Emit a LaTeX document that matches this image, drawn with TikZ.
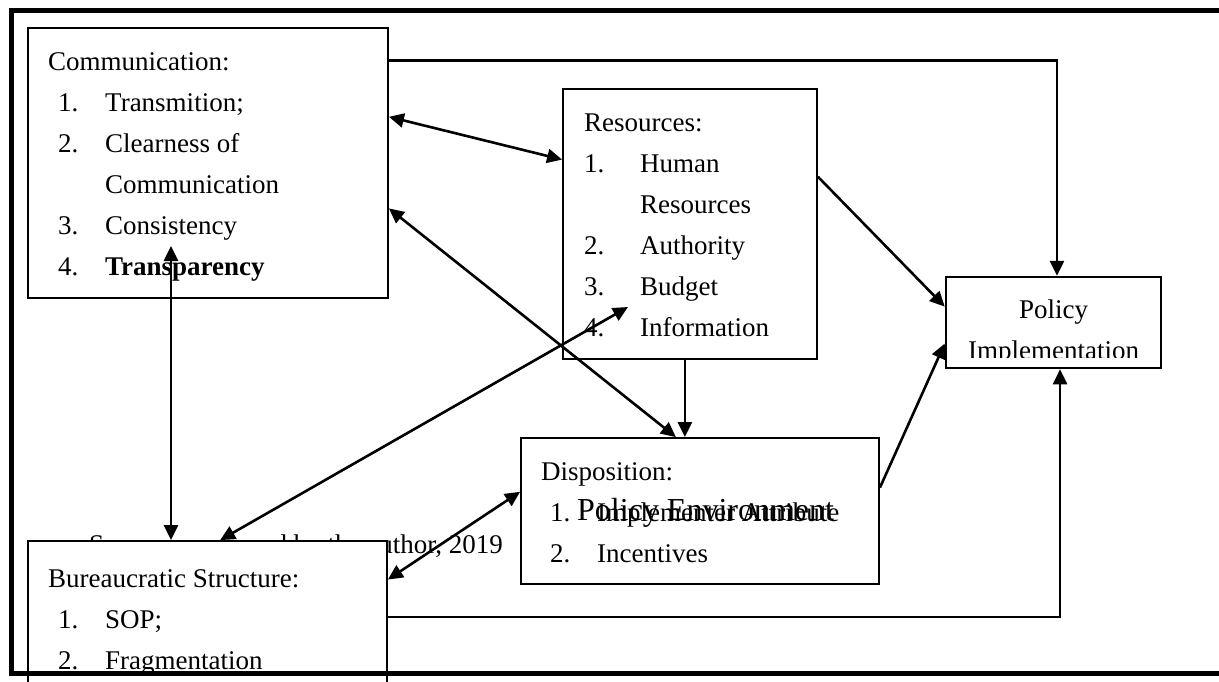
\documentclass[tikz,border=0pt]{standalone}
\usepackage{fontspec}
\setmainfont{Liberation Serif}
\usetikzlibrary{arrows.meta,calc}

\begin{document}
\begin{tikzpicture}[x=1pt, y=-1pt,
    >={Triangle[length=15pt,width=14pt]},
    box/.style={draw, line width=1.8pt, inner sep=0pt},
    txt/.style={inner sep=0pt, font=\fontsize{27}{41}\selectfont},
    conn/.style={line width=2.6pt}]
    \useasboundingbox (0,0) rectangle (1219,681);
    \clip (0,0) rectangle (1219,681);

    % boxes
    \node[box, minimum width=360pt, minimum height=270pt] (comm) at (208,163) {};
    \node[box, minimum width=254pt, minimum height=270pt] (res) at (690,224) {};
    \node[box, line width=2.5pt, minimum width=215pt, minimum height=91pt] (pi) at (1053.5,322.5) {};
    \node[box, minimum width=358pt, minimum height=146pt] (disp) at (700,511) {};

    \node[txt, anchor=north west] (commtxt) at (48,41.3) {\begin{tabular}{@{\hspace{10pt}}p{47pt}@{}l@{}}
      \multicolumn{2}{@{}l@{}}{Communication:}\\
      1. & Transmition;\\
      2. & Clearness of\\
         & Communication\\
      3. & Consistency\\
      4. & \textbf{Transparency}
    \end{tabular}};
    \node[txt, anchor=north west] (restxt) at (584,102.3) {\begin{tabular}{@{}p{56pt}@{}l@{}}
      \multicolumn{2}{@{}l@{}}{Resources:}\\
      1. & Human\\
         & Resources\\
      2. & Authority\\
      3. & Budget\\
      4. & Information
    \end{tabular}};
    \node[txt, anchor=north west] (disptxt) at (541,451.3) {\begin{tabular}{@{\hspace{9pt}}p{47pt}@{}l@{}}
      \multicolumn{2}{@{}l@{}}{Disposition:}\\
      1. & Implementer Attribute\\
      2. & Incentives
    \end{tabular}};
    \node[inner sep=0pt, anchor=base west, font=\fontsize{32}{38}\selectfont] (env) at (577,520) {Policy Environment};
    \begin{scope}
      \clip (946,277) rectangle (1161,357);
      \node[txt, anchor=north] (pitxt) at (1053.5,289.3) {\begin{tabular}{@{}c@{}}
        Policy\\
        Implementation
      \end{tabular}};
    \end{scope}

    % source line, mostly under the structure box
    \node[txt, anchor=base east] (src) at (503,553) {Source: processed by the author, 2019};

    \node[box, fill=white, minimum width=359pt, minimum height=179pt] (bur) at (207.5,630.5) {};
    \node[txt, anchor=north west] (burtxt) at (48,558.3) {\begin{tabular}{@{\hspace{10pt}}p{47pt}@{}l@{}}
      \multicolumn{2}{@{}l@{}}{Bureaucratic Structure:}\\
      1. & SOP;\\
      2. & Fragmentation
    \end{tabular}};

    % frame round the whole figure
    \draw[line width=5pt] (11,10) rectangle (1240,673);

    \coordinate (ctop) at (171,246);
    \coordinate (rbud) at (628,307);

    % connectors
    \draw[conn,->] ($(comm.north east)!0.122!(comm.south east)$) -| ($(pi.north west)!0.516!(pi.north east)$);
    \draw[conn,<->] ($(comm.north east)!0.33!(comm.south east)$) -- ($(res.north west)!0.263!(res.south west)$);
    \draw[conn,<->] ($(comm.north east)!0.667!(comm.south east)$) -- ($(disp.north west)!0.433!(disp.north east)$);
    \draw[conn,->] ($(res.south west)!0.48!(res.south east)$) coordinate (r1) -- (r1 |- disp.north);
    \draw[conn,->] ($(res.north east)!0.326!(res.south east)$) -- ($(pi.north west)!0.33!(pi.south west)$);
    \draw[conn,->] ($(disp.north east)!0.342!(disp.south east)$) -- ($(pi.north west)!0.725!(pi.south west)$);
    \draw[conn,->] ($(bur.north east)!0.425!(bur.south east)$) -| ($(pi.south west)!0.53!(pi.south east)$);
    \draw[conn,<->] (ctop) -- (ctop |- bur.north);
    \draw[conn,<->] ($(bur.north west)!0.535!(bur.north east)$) -- (rbud);
    \draw[conn,<->] ($(bur.north east)!0.218!(bur.south east)$) -- ($(disp.north west)!0.37!(disp.south west)$);
  \end{tikzpicture}
\end{document}
